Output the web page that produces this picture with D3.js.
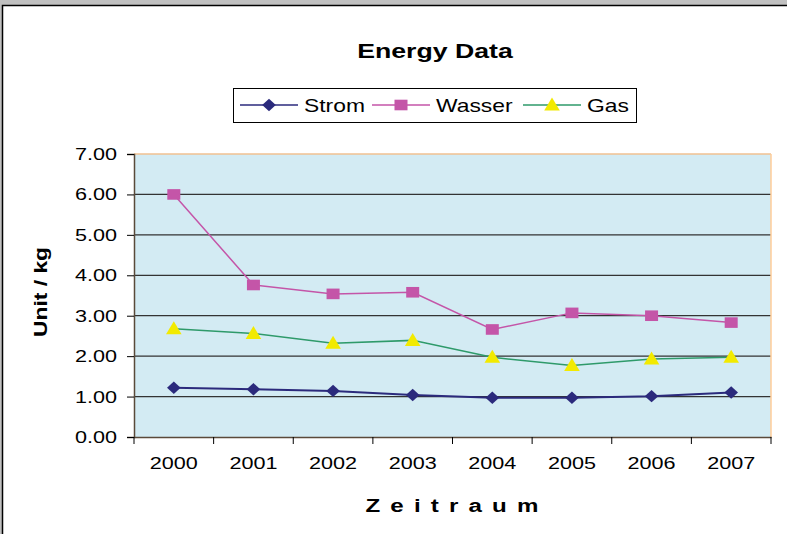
<!DOCTYPE html>
<html><head><meta charset="utf-8">
<script src="https://cdn.jsdelivr.net/npm/d3@7"></script>
<style>body{margin:0;background:#c0c0c0;overflow:hidden}svg{display:block}</style>
</head><body>
<svg id="c" width="787" height="534"></svg>
<script>
const categories = ["2000","2001","2002","2003","2004","2005","2006","2007"];
const strom  = [1.22,1.18,1.14,1.04,0.97,0.97,1.01,1.10];
const wasser = [6.00,3.76,3.54,3.58,2.66,3.07,3.00,2.83];
const gas    = [2.68,2.56,2.32,2.39,1.97,1.77,1.93,1.97];
const yTicks = [0,1,2,3,4,5,6,7];
const seriesNames = ["Strom","Wasser","Gas"];

const svg = d3.select("#c");
const font = "Arial, 'Liberation Sans', sans-serif";
const SX = 1.27; // horizontal stretch of the text in the original

svg.append("rect").attr("x",2.5).attr("y",5.5).attr("width",800).attr("height",600)
  .attr("fill","#fff").attr("stroke","#000").attr("stroke-width",1.5);

const L=134, R=771, T=154, B=437;
const x = d3.scaleBand().domain(categories).range([L,R]);
const y = d3.scaleLinear().domain([0,7]).range([B,T]);

svg.append("rect").attr("x",L).attr("y",T).attr("width",R-L).attr("height",B-T).attr("fill","#d3ebf3");

svg.append("g").selectAll("line").data(yTicks.filter(d=>d>0&&d<7)).join("line")
  .attr("x1",L).attr("x2",R).attr("y1",d=>y(d)).attr("y2",d=>y(d))
  .attr("stroke","#333").attr("stroke-width",1.2);
svg.append("line").attr("x1",L).attr("x2",R).attr("y1",T).attr("y2",T).attr("stroke","#f0c090").attr("stroke-width",1.5);
svg.append("line").attr("x1",R).attr("x2",R).attr("y1",T).attr("y2",B).attr("stroke","#ffcc99").attr("stroke-width",1.5);

function stretchTicks(sel){
  sel.selectAll(".tick text").each(function(){
    const t=d3.select(this);
    const tx=+t.attr("x")||0, ty=+t.attr("y")||0;
    t.attr("x",0).attr("y",0).attr("transform",`translate(${tx},${ty}) scale(${SX},1)`);
  });
}

const yAxis = d3.axisLeft(y).tickValues(yTicks).tickFormat(d3.format(".2f")).tickSize(7).tickPadding(10);
const gy = svg.append("g").attr("transform",`translate(${L},0)`).call(yAxis);
gy.select(".domain").attr("stroke","#5a4a3a").attr("stroke-width",1.5);
gy.selectAll(".tick line").attr("stroke","#000");
gy.selectAll("text").attr("font-family",font).attr("font-size",17).attr("fill","#000");
stretchTicks(gy);

const xAxis = d3.axisBottom(x).tickSize(0).tickPadding(20);
const gx = svg.append("g").attr("transform",`translate(0,${B})`).call(xAxis);
gx.select(".domain").attr("stroke","#5a4a3a").attr("stroke-width",1.5);
gx.selectAll("text").attr("font-family",font).attr("font-size",17).attr("fill","#000");
stretchTicks(gx);
svg.append("g").selectAll("line").data(d3.range(categories.length+1)).join("line")
  .attr("x1",i=>L+i*x.step()).attr("x2",i=>L+i*x.step()).attr("y1",B).attr("y2",B+7)
  .attr("stroke","#000");

const cx = d=>x(d)+x.bandwidth()/2;
const line = d3.line().x((d,i)=>cx(categories[i])).y(d=>y(d));

const series = [
  {name:"Strom", data:strom, color:"#2b2a7c", mark:"diamond", fill:"#2b2a7c", w:2},
  {name:"Wasser", data:wasser, color:"#c455a8", mark:"square", fill:"#c455a8", w:1.5},
  {name:"Gas", data:gas, color:"#2e9a6a", mark:"triangle", fill:"#f2ea00", w:1.5}
];
function marker(g, type, fill){
  if(type==="diamond") g.append("path").attr("d","M0,-6.2L6.8,0L0,6.2L-6.8,0Z").attr("fill",fill);
  else if(type==="square") g.append("rect").attr("x",-6.5).attr("y",-5.3).attr("width",13).attr("height",10.6).attr("fill",fill);
  else g.append("path").attr("d","M0,-7.5L7.8,5.5L-7.8,5.5Z").attr("fill",fill);
}
series.forEach(s=>{
  svg.append("path").datum(s.data).attr("d",line).attr("fill","none").attr("stroke",s.color).attr("stroke-width",s.w);
  s.data.forEach((v,i)=>{
    const g = svg.append("g").attr("transform",`translate(${cx(categories[i])},${y(v)})`);
    marker(g,s.mark,s.fill);
  });
});

function stext(xp, yp, str, size, opts={}){
  const t = svg.append("text")
    .attr("transform",`translate(${xp},${yp})${opts.rot?` rotate(${opts.rot})`:""} scale(${SX},1)`)
    .attr("font-family",font).attr("font-size",size)
    .attr("text-anchor",opts.anchor||"start").text(str);
  if(opts.bold) t.attr("font-weight","bold");
  if(opts.ls) t.attr("letter-spacing",opts.ls+"px");
  return t;
}

stext(435, 58, "Energy Data", 21, {bold:true, anchor:"middle"});

svg.append("rect").attr("x",233.5).attr("y",88.5).attr("width",403).attr("height",34).attr("fill","#fff").attr("stroke","#000");
const legX = [240,372,523];
series.forEach((s,i)=>{
  const lx = legX[i], ly = 105;
  svg.append("line").attr("x1",lx).attr("x2",lx+58).attr("y1",ly).attr("y2",ly).attr("stroke",s.color).attr("stroke-width",1.5);
  const g = svg.append("g").attr("transform",`translate(${lx+29},${ly})`);
  marker(g,s.mark,s.fill);
  stext(lx+64, ly+7, seriesNames[i], 18);
});

stext(47, 292, "Unit / kg", 18, {bold:true, anchor:"middle", rot:-90});
stext(457, 512, "Zeitraum", 19, {bold:true, anchor:"middle", ls:8});
</script>
</body></html>
